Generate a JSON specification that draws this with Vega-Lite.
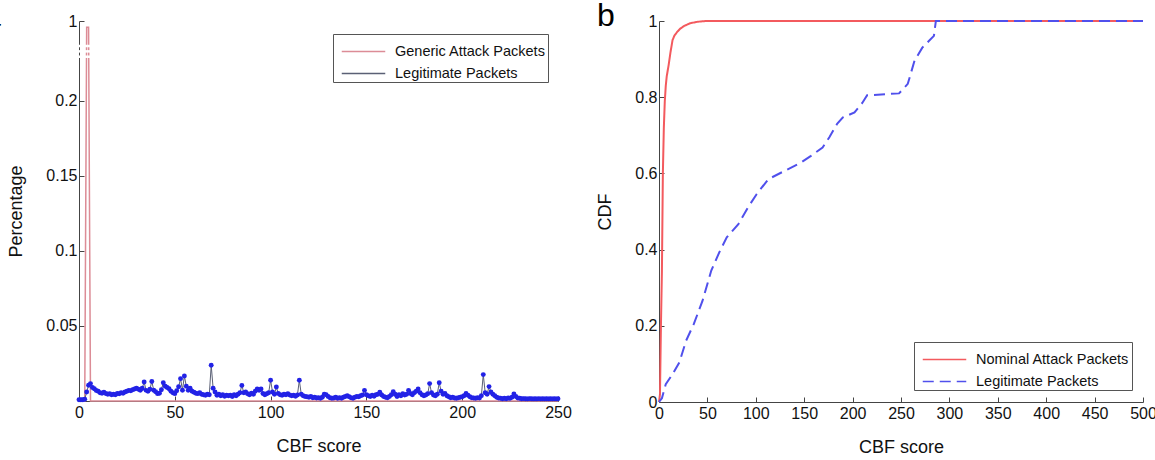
{
  "$schema": "https://vega.github.io/schema/vega-lite/v6.json",
  "background": "white",
  "padding": {"left": -17, "top": 0, "right": 0, "bottom": 0},
  "spacing": 24,
  "resolve": {"scale": {"color": "independent", "strokeDash": "independent", "x": "independent", "y": "independent"}, "legend": {"color": "independent", "strokeDash": "independent"}},
  "config": {
    "font": "Liberation Sans",
    "view": {"stroke": null},
    "axis": {
      "domainColor": "#444",
      "tickColor": "#444",
      "labelColor": "#111",
      "titleColor": "#111",
      "labelFontSize": 16,
      "titleFontSize": 18,
      "titleFontWeight": "normal",
      "grid": false,
      "tickSize": -5,
      "labelPadding": 7,
      "labelOverlap": false,
      "labelFlush": false
    },
    "axisX": {"labelPadding": 8, "titlePadding": 17},
    "axisY": {"titlePadding": 20},
    "legend": {
      "strokeColor": "#555",
      "fillColor": "white",
      "padding": 2,
      "labelFontSize": 14.5,
      "labelColor": "#111",
      "symbolType": "M-1.5,0H1.5",
      "symbolSize": 841,
      "symbolOffset": 13,
      "symbolStrokeWidth": 1.5,
      "rowPadding": -3.5,
      "labelOffset": 16,
      "title": null
    },
    "title": {"fontSize": 32, "fontWeight": "normal", "anchor": "start", "frame": "group", "color": "#000"}
  },
  "hconcat": [
    {
      "width": 479,
      "height": 380,
      "title": {"text": "a", "dx": -96, "dy": 24},
      "layer": [
        {
          "data": {"values": [
            {"score": 0, "pct": 0}, {"score": 3, "pct": 0}, {"score": 4, "pct": 0.97}, {"score": 5, "pct": 0.97}, {"score": 6, "pct": 0}, {"score": 250, "pct": 0}
          ]},
          "mark": {"type": "line", "strokeWidth": 1.5},
          "encoding": {
            "x": {"field": "score", "type": "quantitative", "scale": {"domain": [0, 250], "nice": false}, "axis": {"values": [0, 50, 100, 150, 200, 250], "title": "CBF score"}},
            "y": {"field": "pct", "type": "quantitative", "scale": {"domain": [0, 0.2273, 0.9, 1], "range": [380, 39, 21, 0]}, "axis": {"values": [0.05, 0.1, 0.15, 0.2, 1], "format": ".2~f", "title": "Percentage"}},
            "color": {"datum": "Generic Attack Packets", "type": "nominal", "scale": {"domain": ["Generic Attack Packets", "Legitimate Packets"], "range": ["#dc8c96", "#5a6075"]}, "legend": {"orient": "none", "legendX": 254, "legendY": 13}}
          }
        },
        {
          "data": {"name": "legit"},
          "mark": {"type": "line", "strokeWidth": 1},
          "encoding": {
            "x": {"field": "score", "type": "quantitative"},
            "y": {"field": "pct", "type": "quantitative"},
            "color": {"datum": "Legitimate Packets", "type": "nominal"}
          }
        },
        {
          "data": {"name": "legit"},
          "mark": {"type": "point", "filled": true, "size": 24, "color": "#2222e6", "opacity": 1},
          "encoding": {
            "x": {"field": "score", "type": "quantitative"},
            "y": {"field": "pct", "type": "quantitative"}
          }
        },
        {
          "data": {"values": [{"b": 0.35}, {"b": 0.55}, {"b": 0.75}]},
          "mark": {"type": "rule", "color": "white", "strokeWidth": 2.5},
          "encoding": {
            "y": {"field": "b", "type": "quantitative"},
            "x": {"datum": -3},
            "x2": {"datum": 8}
          }
        }
      ]
    },
    {
      "width": 484,
      "height": 381,
      "title": {"text": "b", "dx": -62, "dy": 24},
      "layer": [
        {
          "data": {"values": [
            {"score": 0, "cdf": 0}, {"score": 1, "cdf": 0.02}, {"score": 2, "cdf": 0.2}, {"score": 3, "cdf": 0.34}, {"score": 4, "cdf": 0.6}, {"score": 5, "cdf": 0.72}, {"score": 6, "cdf": 0.79}, {"score": 7, "cdf": 0.83}, {"score": 8, "cdf": 0.855}, {"score": 10, "cdf": 0.885}, {"score": 12, "cdf": 0.92}, {"score": 14, "cdf": 0.95}, {"score": 16, "cdf": 0.962}, {"score": 19, "cdf": 0.972}, {"score": 22, "cdf": 0.98}, {"score": 26, "cdf": 0.987}, {"score": 32, "cdf": 0.994}, {"score": 40, "cdf": 0.998}, {"score": 48, "cdf": 1}, {"score": 500, "cdf": 1}
          ]},
          "mark": {"type": "line", "strokeWidth": 2},
          "encoding": {
            "x": {"field": "score", "type": "quantitative", "scale": {"domain": [0, 500], "nice": false}, "axis": {"values": [0, 50, 100, 150, 200, 250, 300, 350, 400, 450, 500], "title": "CBF score"}},
            "y": {"field": "cdf", "type": "quantitative", "scale": {"domain": [0, 1]}, "axis": {"values": [0, 0.1, 0.2, 0.3, 0.4, 0.5, 0.6, 0.7, 0.8, 0.9, 1], "format": ".1~f", "title": "CDF"}},
            "color": {"datum": "Nominal Attack Packets", "type": "nominal", "scale": {"domain": ["Nominal Attack Packets", "Legitimate Packets"], "range": ["#f35a5e", "#5050ec"]}, "legend": {"orient": "none", "legendX": 255, "legendY": 321}},
            "strokeDash": {"datum": "Nominal Attack Packets", "type": "nominal", "scale": {"domain": ["Nominal Attack Packets", "Legitimate Packets"], "range": [[1, 0], [11, 6]]}, "legend": {"orient": "none", "legendX": 255, "legendY": 321}}
          }
        },
        {
          "data": {"values": [
            {"score": 0, "cdf": 0}, {"score": 3, "cdf": 0.01}, {"score": 7, "cdf": 0.047}, {"score": 14, "cdf": 0.073}, {"score": 21, "cdf": 0.104}, {"score": 28, "cdf": 0.161}, {"score": 36, "cdf": 0.205}, {"score": 45, "cdf": 0.266}, {"score": 54, "cdf": 0.345}, {"score": 63, "cdf": 0.397}, {"score": 70, "cdf": 0.432}, {"score": 82, "cdf": 0.467}, {"score": 92, "cdf": 0.511}, {"score": 101, "cdf": 0.546}, {"score": 113, "cdf": 0.585}, {"score": 127, "cdf": 0.603}, {"score": 137, "cdf": 0.616}, {"score": 147, "cdf": 0.629}, {"score": 157, "cdf": 0.646}, {"score": 169, "cdf": 0.668}, {"score": 176, "cdf": 0.695}, {"score": 184, "cdf": 0.73}, {"score": 190, "cdf": 0.747}, {"score": 202, "cdf": 0.76}, {"score": 210, "cdf": 0.785}, {"score": 215, "cdf": 0.805}, {"score": 248, "cdf": 0.81}, {"score": 257, "cdf": 0.835}, {"score": 264, "cdf": 0.896}, {"score": 272, "cdf": 0.93}, {"score": 279, "cdf": 0.948}, {"score": 284, "cdf": 0.961}, {"score": 286, "cdf": 1}, {"score": 500, "cdf": 1}
          ]},
          "mark": {"type": "line", "strokeWidth": 2},
          "encoding": {
            "x": {"field": "score", "type": "quantitative"},
            "y": {"field": "cdf", "type": "quantitative"},
            "color": {"datum": "Legitimate Packets", "type": "nominal"},
            "strokeDash": {"datum": "Legitimate Packets", "type": "nominal"}
          }
        }
      ]
    }
  ],
  "datasets": {
    "legit": [
      {"score": 0, "pct": 0.0008}, {"score": 1, "pct": 0.0008}, {"score": 2, "pct": 0.0008}, {"score": 3, "pct": 0.0012}, {"score": 4, "pct": 0.006}, {"score": 5, "pct": 0.0105}, {"score": 6, "pct": 0.0116}, {"score": 7, "pct": 0.009}, {"score": 8, "pct": 0.0082}, {"score": 9, "pct": 0.007},
      {"score": 10, "pct": 0.0065}, {"score": 11, "pct": 0.0055}, {"score": 12, "pct": 0.0052}, {"score": 13, "pct": 0.0058}, {"score": 14, "pct": 0.005}, {"score": 15, "pct": 0.0045}, {"score": 16, "pct": 0.0048}, {"score": 17, "pct": 0.0042}, {"score": 18, "pct": 0.0045}, {"score": 19, "pct": 0.0042},
      {"score": 20, "pct": 0.005}, {"score": 21, "pct": 0.0048}, {"score": 22, "pct": 0.0055}, {"score": 23, "pct": 0.0052}, {"score": 24, "pct": 0.006}, {"score": 25, "pct": 0.0065}, {"score": 26, "pct": 0.0071}, {"score": 27, "pct": 0.0068}, {"score": 28, "pct": 0.0075}, {"score": 29, "pct": 0.008},
      {"score": 30, "pct": 0.0085}, {"score": 31, "pct": 0.0078}, {"score": 32, "pct": 0.0072}, {"score": 33, "pct": 0.0085}, {"score": 34, "pct": 0.0127}, {"score": 35, "pct": 0.0071}, {"score": 36, "pct": 0.0065}, {"score": 37, "pct": 0.0078}, {"score": 38, "pct": 0.013}, {"score": 39, "pct": 0.0072},
      {"score": 40, "pct": 0.0062}, {"score": 41, "pct": 0.0049}, {"score": 42, "pct": 0.0052}, {"score": 43, "pct": 0.0075}, {"score": 44, "pct": 0.0122}, {"score": 45, "pct": 0.0098}, {"score": 46, "pct": 0.009}, {"score": 47, "pct": 0.0082}, {"score": 48, "pct": 0.0065}, {"score": 49, "pct": 0.0055},
      {"score": 50, "pct": 0.0049}, {"score": 51, "pct": 0.0068}, {"score": 52, "pct": 0.0095}, {"score": 53, "pct": 0.0149}, {"score": 54, "pct": 0.0072}, {"score": 55, "pct": 0.0167}, {"score": 56, "pct": 0.0098}, {"score": 57, "pct": 0.0071}, {"score": 58, "pct": 0.0085}, {"score": 59, "pct": 0.0065},
      {"score": 60, "pct": 0.0058}, {"score": 61, "pct": 0.0052}, {"score": 62, "pct": 0.0049}, {"score": 63, "pct": 0.0055}, {"score": 64, "pct": 0.0045}, {"score": 65, "pct": 0.0042}, {"score": 66, "pct": 0.0038}, {"score": 67, "pct": 0.0045}, {"score": 68, "pct": 0.0042}, {"score": 69, "pct": 0.0238},
      {"score": 70, "pct": 0.0085}, {"score": 71, "pct": 0.006}, {"score": 72, "pct": 0.0038}, {"score": 73, "pct": 0.0045}, {"score": 74, "pct": 0.0035}, {"score": 75, "pct": 0.0042}, {"score": 76, "pct": 0.0032}, {"score": 77, "pct": 0.0038}, {"score": 78, "pct": 0.0035}, {"score": 79, "pct": 0.0038},
      {"score": 80, "pct": 0.003}, {"score": 81, "pct": 0.0042}, {"score": 82, "pct": 0.0035}, {"score": 83, "pct": 0.0045}, {"score": 84, "pct": 0.0055}, {"score": 85, "pct": 0.0104}, {"score": 86, "pct": 0.0055}, {"score": 87, "pct": 0.006}, {"score": 88, "pct": 0.0048}, {"score": 89, "pct": 0.0042},
      {"score": 90, "pct": 0.0052}, {"score": 91, "pct": 0.0045}, {"score": 92, "pct": 0.0065}, {"score": 93, "pct": 0.008}, {"score": 94, "pct": 0.0072}, {"score": 95, "pct": 0.008}, {"score": 96, "pct": 0.005}, {"score": 97, "pct": 0.0042}, {"score": 98, "pct": 0.0048}, {"score": 99, "pct": 0.0055},
      {"score": 100, "pct": 0.0138}, {"score": 101, "pct": 0.006}, {"score": 102, "pct": 0.0045}, {"score": 103, "pct": 0.0093}, {"score": 104, "pct": 0.005}, {"score": 105, "pct": 0.0042}, {"score": 106, "pct": 0.0038}, {"score": 107, "pct": 0.0045}, {"score": 108, "pct": 0.0042}, {"score": 109, "pct": 0.0048},
      {"score": 110, "pct": 0.004}, {"score": 111, "pct": 0.0035}, {"score": 112, "pct": 0.0038}, {"score": 113, "pct": 0.0032}, {"score": 114, "pct": 0.004}, {"score": 115, "pct": 0.0138}, {"score": 116, "pct": 0.0045}, {"score": 117, "pct": 0.0035}, {"score": 118, "pct": 0.003}, {"score": 119, "pct": 0.0028},
      {"score": 120, "pct": 0.0025}, {"score": 121, "pct": 0.003}, {"score": 122, "pct": 0.0022}, {"score": 123, "pct": 0.0025}, {"score": 124, "pct": 0.002}, {"score": 125, "pct": 0.0022}, {"score": 126, "pct": 0.0018}, {"score": 127, "pct": 0.0025}, {"score": 128, "pct": 0.0045}, {"score": 129, "pct": 0.0042},
      {"score": 130, "pct": 0.003}, {"score": 131, "pct": 0.0022}, {"score": 132, "pct": 0.0018}, {"score": 133, "pct": 0.002}, {"score": 134, "pct": 0.0025}, {"score": 135, "pct": 0.0018}, {"score": 136, "pct": 0.0022}, {"score": 137, "pct": 0.0018}, {"score": 138, "pct": 0.0025}, {"score": 139, "pct": 0.003},
      {"score": 140, "pct": 0.0035}, {"score": 141, "pct": 0.0028}, {"score": 142, "pct": 0.0022}, {"score": 143, "pct": 0.0018}, {"score": 144, "pct": 0.0025}, {"score": 145, "pct": 0.003}, {"score": 146, "pct": 0.0028}, {"score": 147, "pct": 0.0035}, {"score": 148, "pct": 0.004}, {"score": 149, "pct": 0.0071},
      {"score": 150, "pct": 0.0042}, {"score": 151, "pct": 0.0035}, {"score": 152, "pct": 0.003}, {"score": 153, "pct": 0.0038}, {"score": 154, "pct": 0.0032}, {"score": 155, "pct": 0.0042}, {"score": 156, "pct": 0.0045}, {"score": 157, "pct": 0.0058}, {"score": 158, "pct": 0.004}, {"score": 159, "pct": 0.003},
      {"score": 160, "pct": 0.0025}, {"score": 161, "pct": 0.0022}, {"score": 162, "pct": 0.003}, {"score": 163, "pct": 0.0042}, {"score": 164, "pct": 0.0062}, {"score": 165, "pct": 0.0045}, {"score": 166, "pct": 0.003}, {"score": 167, "pct": 0.0042}, {"score": 168, "pct": 0.0035}, {"score": 169, "pct": 0.0048},
      {"score": 170, "pct": 0.004}, {"score": 171, "pct": 0.0045}, {"score": 172, "pct": 0.0071}, {"score": 173, "pct": 0.005}, {"score": 174, "pct": 0.0042}, {"score": 175, "pct": 0.0055}, {"score": 176, "pct": 0.0065}, {"score": 177, "pct": 0.008}, {"score": 178, "pct": 0.0055}, {"score": 179, "pct": 0.0042},
      {"score": 180, "pct": 0.0035}, {"score": 181, "pct": 0.004}, {"score": 182, "pct": 0.0048}, {"score": 183, "pct": 0.0116}, {"score": 184, "pct": 0.0055}, {"score": 185, "pct": 0.004}, {"score": 186, "pct": 0.0035}, {"score": 187, "pct": 0.0045}, {"score": 188, "pct": 0.0122}, {"score": 189, "pct": 0.0065},
      {"score": 190, "pct": 0.0045}, {"score": 191, "pct": 0.005}, {"score": 192, "pct": 0.0035}, {"score": 193, "pct": 0.0028}, {"score": 194, "pct": 0.0022}, {"score": 195, "pct": 0.0025}, {"score": 196, "pct": 0.002}, {"score": 197, "pct": 0.0018}, {"score": 198, "pct": 0.0022}, {"score": 199, "pct": 0.0025},
      {"score": 200, "pct": 0.0028}, {"score": 201, "pct": 0.0035}, {"score": 202, "pct": 0.005}, {"score": 203, "pct": 0.0038}, {"score": 204, "pct": 0.0028}, {"score": 205, "pct": 0.0022}, {"score": 206, "pct": 0.002}, {"score": 207, "pct": 0.0018}, {"score": 208, "pct": 0.0022}, {"score": 209, "pct": 0.002},
      {"score": 210, "pct": 0.0035}, {"score": 211, "pct": 0.0176}, {"score": 212, "pct": 0.0055}, {"score": 213, "pct": 0.0045}, {"score": 214, "pct": 0.0096}, {"score": 215, "pct": 0.006}, {"score": 216, "pct": 0.0045}, {"score": 217, "pct": 0.0035}, {"score": 218, "pct": 0.0025}, {"score": 219, "pct": 0.002},
      {"score": 220, "pct": 0.0018}, {"score": 221, "pct": 0.0015}, {"score": 222, "pct": 0.0018}, {"score": 223, "pct": 0.0015}, {"score": 224, "pct": 0.002}, {"score": 225, "pct": 0.0018}, {"score": 226, "pct": 0.0025}, {"score": 227, "pct": 0.0047}, {"score": 228, "pct": 0.003}, {"score": 229, "pct": 0.002},
      {"score": 230, "pct": 0.0018}, {"score": 231, "pct": 0.0015}, {"score": 232, "pct": 0.0016}, {"score": 233, "pct": 0.0015}, {"score": 234, "pct": 0.0014}, {"score": 235, "pct": 0.0016}, {"score": 236, "pct": 0.0015}, {"score": 237, "pct": 0.0014}, {"score": 238, "pct": 0.0015}, {"score": 239, "pct": 0.0014},
      {"score": 240, "pct": 0.0016}, {"score": 241, "pct": 0.0014}, {"score": 242, "pct": 0.0015}, {"score": 243, "pct": 0.0014}, {"score": 244, "pct": 0.0015}, {"score": 245, "pct": 0.0014}, {"score": 246, "pct": 0.0015}, {"score": 247, "pct": 0.0014}, {"score": 248, "pct": 0.0015}, {"score": 249, "pct": 0.0014},
      {"score": 250, "pct": 0.0015}
    ]
  }
}
